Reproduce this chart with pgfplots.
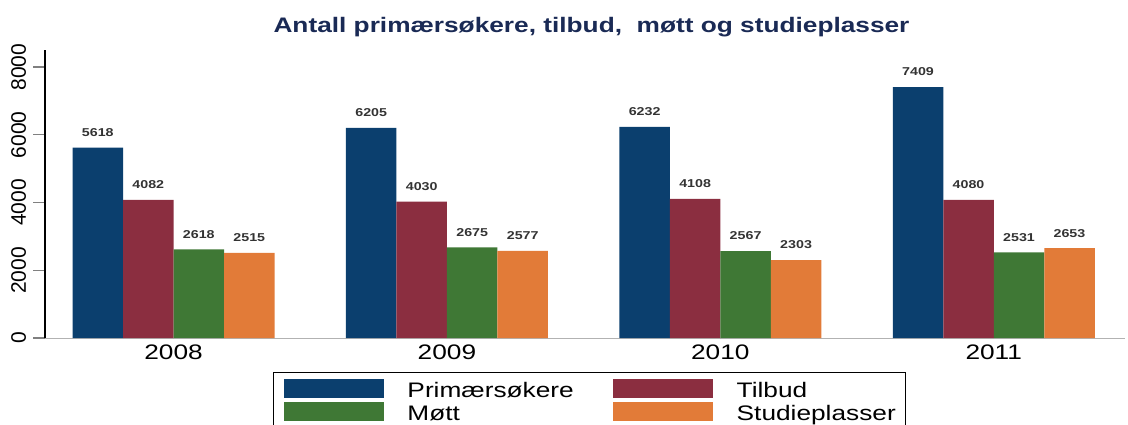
\documentclass[border=0pt]{standalone}
\usepackage{pgfplots}
\pgfplotsset{compat=1.18}
\usepackage{fontspec}
\setmainfont{Liberation Sans}
\newfontfamily\widefont{Liberation Sans}[FakeStretch=1.25]
\definecolor{cblue}{HTML}{0B3F6E}
\definecolor{cred}{HTML}{8B2E40}
\definecolor{cgreen}{HTML}{3F7835}
\definecolor{corange}{HTML}{E27B38}
\definecolor{ctitle}{HTML}{1A2A55}
\begin{document}
\begin{tikzpicture}
\begin{axis}[
  scale only axis, clip=false,
  width=540pt, height=144pt,
  ymin=0, ymax=8500,
  xmin=-0.47, xmax=3.48,
  ybar=0pt, bar width=25.25pt,
  axis x line*=bottom, axis y line*=left,
  x axis line style={draw=gray!60, line width=0.4pt},
  y axis line style={line width=0.6pt},
  xtick={0,1,2,3}, xticklabels={2008,2009,2010,2011},
  xtick style={draw=none},
  ytick={0,2000,4000,6000,8000},
  yticklabel style={rotate=90, font=\fontsize{10.5}{10.5}\selectfont},
  /pgf/number format/assume math mode=true,
  /pgf/number format/1000 sep={},
  ytick style={line width=0.6pt},
  tick align=outside, major tick length=6pt,
  xticklabel style={font=\widefont\fontsize{10.5}{10.5}\selectfont, yshift=6pt},
  nodes near coords,
  every node near coord/.append style={font=\widefont\bfseries\fontsize{5.7}{5.7}\selectfont, color=black!80, yshift=2pt},
  legend columns=2,
  legend cell align=left,
  legend style={at={(axis description cs:0.211,-0.118)}, anchor=north west, draw=black, line width=0.6pt,
    font=\widefont\fontsize{10.5}{10.5}\selectfont,
    nodes={inner xsep=0pt, inner ysep=0pt, text height=8pt, text depth=1.5pt},
    /tikz/every odd column/.append style={column sep=12pt},
    /tikz/every even column/.append style={column sep=19.5pt},
    inner xsep=5pt, inner ysep=3pt, row sep=0.75pt},
  legend image code/.code={\fill[#1, draw=none] (0pt,-3.5pt) rectangle (50pt,6pt);},
]
\addplot[fill=cblue, draw=none] coordinates {(0,5618) (1,6205) (2,6232) (3,7409)};
\addplot[fill=cred, draw=none] coordinates {(0,4082) (1,4030) (2,4108) (3,4080)};
\addplot[fill=cgreen, draw=none] coordinates {(0,2618) (1,2675) (2,2567) (3,2531)};
\addplot[fill=corange, draw=none] coordinates {(0,2515) (1,2577) (2,2303) (3,2653)};
\legend{Primærsøkere,Tilbud,Møtt,Studieplasser}
\node[font=\widefont\bfseries\fontsize{10.5}{10.5}\selectfont, text=ctitle, anchor=center]
  at (axis description cs:0.506,1.08) {Antall primærsøkere, tilbud,\ \ møtt og studieplasser};
\coordinate (bl) at (rel axis cs:-0.0417,-0.299);
\coordinate (tr) at (rel axis cs:1.0028,1.174);
\end{axis}
\pgfresetboundingbox
\path[use as bounding box] (bl) rectangle (tr);
\end{tikzpicture}
\end{document}
